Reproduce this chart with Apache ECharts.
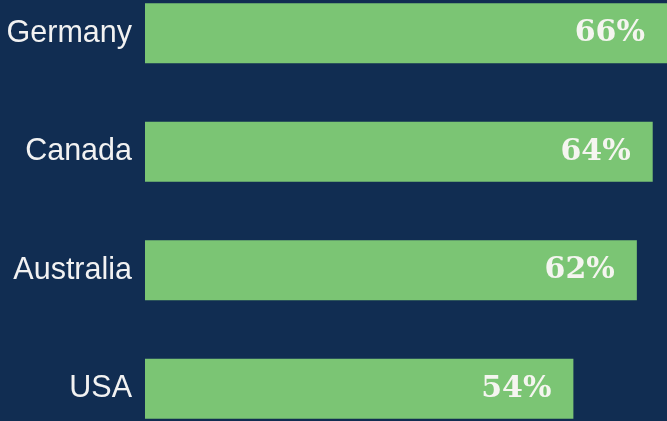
<!DOCTYPE html>
<html>
<head>
<meta charset="utf-8">
<script src="https://cdn.jsdelivr.net/npm/echarts@6/dist/echarts.min.js"></script>
<style>
  html, body { margin: 0; padding: 0; background: #112d52; overflow: hidden; }
  /* the bands run past the window top and bottom, so the chart box does too */
  #chart { width: 667px; height: 474px; margin-top: -26px; }
</style>
</head>
<body>
<div id="chart"></div>
<script>
const countries = ['Germany', 'Canada', 'Australia', 'USA']
const shares = [66, 64, 62, 54]

const chart = echarts.init(document.getElementById('chart'))

chart.setOption({
  backgroundColor: '#112d52',
  animation: false,
  grid: { left: 145, right: 0, top: 0, bottom: 0 },
  xAxis: {
    type: 'value',
    min: 0,
    max: 65.8,
    show: false
  },
  yAxis: {
    type: 'category',
    inverse: true,
    data: countries,
    axisLine: { show: false },
    axisTick: { show: false },
    axisLabel: {
      color: '#f2f2f2',
      fontFamily: 'Liberation Sans, Arial, sans-serif',
      fontSize: 30.5,
      margin: 13
    }
  },
  series: [
    {
      type: 'bar',
      data: shares,
      barWidth: 60,
      itemStyle: { color: '#7bc574' },
      label: {
        show: true,
        position: 'insideRight',
        distance: 22,
        formatter: '{c}%',
        color: '#f5f5f0',
        fontFamily: 'DejaVu Serif, serif',
        fontWeight: 'bold',
        fontSize: 30
      }
    }
  ]
})
</script>
</body>
</html>
